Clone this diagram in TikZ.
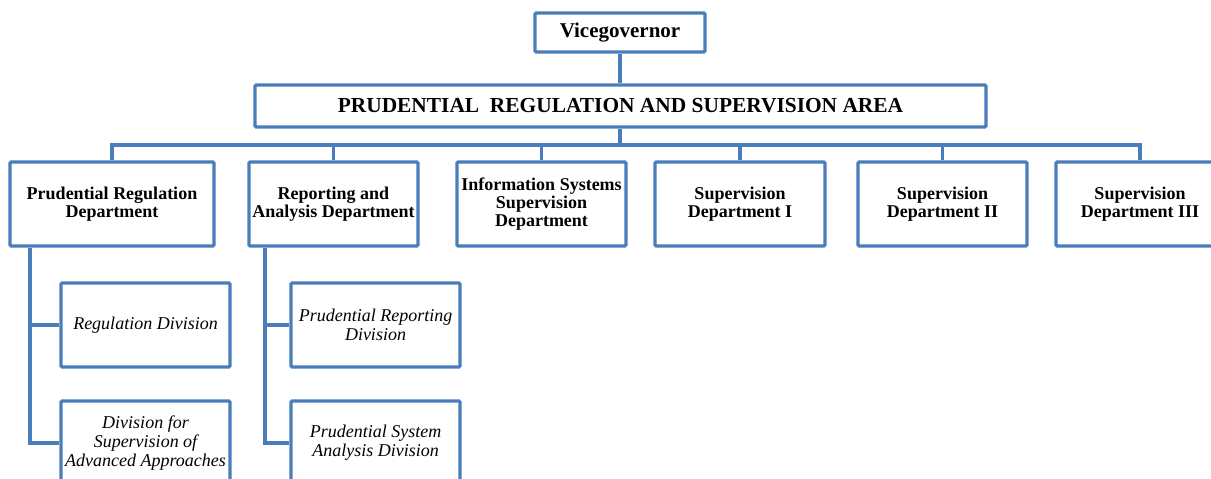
\documentclass[tikz,border=0pt]{standalone}
\usepackage{fontspec}
\setmainfont{Liberation Serif}
\usetikzlibrary{calc}
\definecolor{boxblue}{RGB}{74,126,187}
\begin{document}
\begin{tikzpicture}[x=1pt,y=-1pt,
  box/.style={draw=boxblue,line width=3.3pt,rounded corners=1.2pt,fill=white,inner sep=0pt,align=center,text=black},
  top/.style={box,font=\fontsize{21}{22}\selectfont\bfseries},
  dept/.style={box,minimum width=169pt,minimum height=84pt,font=\fontsize{18}{18}\selectfont\bfseries},
  div/.style={box,minimum width=169pt,minimum height=84pt,font=\fontsize{18}{19}\selectfont\itshape},
  conn/.style={draw=boxblue,line width=3.8pt}]
\useasboundingbox (0,0) rectangle (1211,479);
% top
\node[top,minimum width=170pt,minimum height=39pt] (vg) at (620,32.5) {Vicegovernor};
\node[top,minimum width=731pt,minimum height=42pt,font=\fontsize{21.4}{22}\selectfont\bfseries] (area) at (620.5,106) {PRUDENTIAL\ \ REGULATION AND SUPERVISION AREA};
% departments
\node[dept,minimum width=204pt] (d1) at (112,204) {Prudential Regulation\\Department};
\node[dept] (d2) at (333.5,204) {Reporting and\\Analysis Department};
\node[dept] (d3) at (541.5,204) {Information Systems\\Supervision\\Department};
\node[dept,minimum width=170pt] (d4) at (740,204) {Supervision\\Department I};
\node[dept] (d5) at (942.5,204) {Supervision\\Department II};
\node[dept,minimum width=168pt] (d6) at (1140,204) {Supervision\\Department III};
% divisions
\node[div] (r1) at (145.5,325) {Regulation Division};
\node[div] (r2) at (145.5,443) {Division for\\Supervision of\\Advanced Approaches};
\node[div] (s1) at (375.5,325) {Prudential Reporting\\Division};
\node[div] (s2) at (375.5,443) {Prudential System\\Analysis Division};
% connectors
\coordinate (bus) at (620,145);
\draw[conn] (vg.south) -- (vg.south |- area.north);
\draw[conn] (vg.south |- area.south) -- (bus);
\draw[conn] (d1.north) -- (d1.north |- bus) -- (d6.north |- bus) -- (d6.north);
\foreach \d in {d2,d3,d4,d5} \draw[conn] (\d.north) -- (\d.north |- bus);
\coordinate (p1) at ($(d1.south west)+(22,0)$);
\draw[conn] (p1) |- (r2.west);
\draw[conn] (p1 |- r1.west) -- (r1.west);
\coordinate (p2) at ($(d2.south west)+(18,0)$);
\draw[conn] (p2) |- (s2.west);
\draw[conn] (p2 |- s1.west) -- (s1.west);
\end{tikzpicture}
\end{document}
